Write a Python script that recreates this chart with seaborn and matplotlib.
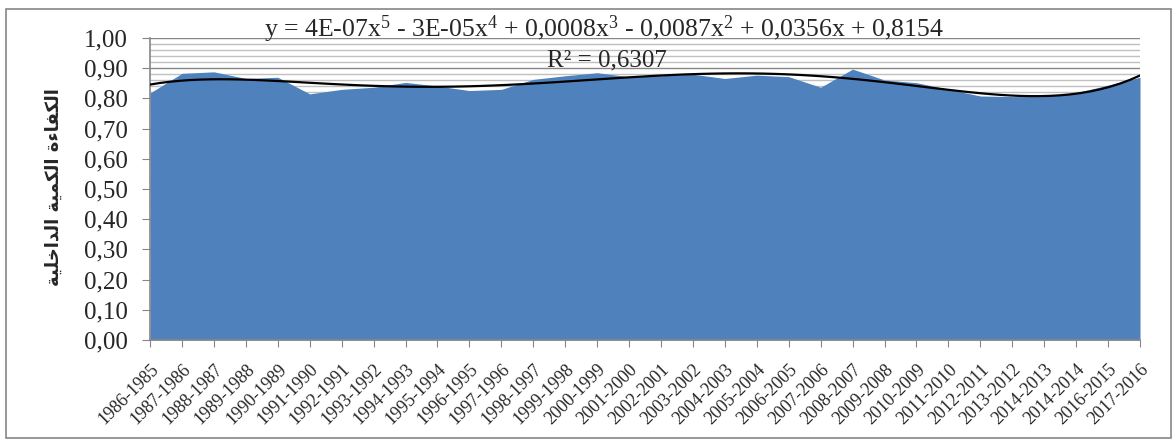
import numpy as np
import pandas as pd
import seaborn as sns
import matplotlib.pyplot as plt
from matplotlib.ticker import MultipleLocator
from matplotlib.patches import Rectangle

seasons = ["1986-1985", "1987-1986", "1988-1987", "1989-1988", "1990-1989", "1991-1990",
           "1992-1991", "1993-1992", "1994-1993", "1995-1994", "1996-1995", "1997-1996",
           "1998-1997", "1999-1998", "2000-1999", "2001-2000", "2002-2001", "2003-2002",
           "2004-2003", "2005-2004", "2006-2005", "2007-2006", "2008-2007", "2009-2008",
           "2010-2009", "2011-2010", "2012-2011", "2013-2012", "2014-2013", "2014-2014",
           "2016-2015", "2017-2016"]
efficiency = [0.818, 0.883, 0.888, 0.866, 0.870, 0.815, 0.830, 0.837, 0.853, 0.841, 0.826,
              0.830, 0.863, 0.875, 0.885, 0.872, 0.875, 0.880, 0.866, 0.877, 0.872, 0.837,
              0.897, 0.861, 0.852, 0.830, 0.808, 0.806, 0.806, 0.819, 0.844, 0.870]
yticks = [0.0, 0.1, 0.2, 0.3, 0.4, 0.5, 0.6, 0.7, 0.8, 0.9, 1.0]
equation = (r"y = 4E-07x$^{5}$ - 3E-05x$^{4}$ + 0,0008x$^{3}$ - 0,0087x$^{2}$"
            r" + 0,0356x + 0,8154")
r2_text = "R² = 0,6307"

# arabic label, pre-shaped (presentation forms) and in visual order
ylabel = "\ufe94\ufef4\ufee0\ufea7\ufe8d\ufeaa\ufedf\ufe8d \ufe94\ufef4\ufee4\ufedc\ufedf\ufe8d \ufe93\ufe80\ufe8e\ufed4\ufedc\ufedf\ufe8d"

df = pd.DataFrame({"pos": np.arange(len(seasons)), "value": efficiency})

sns.set_style("white")
plt.rcParams['font.family'] = ['Liberation Serif', 'DejaVu Sans']
plt.rcParams['mathtext.fontset'] = 'custom'
plt.rcParams['mathtext.rm'] = 'Liberation Serif'
plt.rcParams['mathtext.it'] = 'Liberation Serif'

fig = plt.figure(figsize=(11.76, 4.4), dpi=100)
ax = fig.add_axes([0.1276, 0.2273, 0.8418, 0.6863])

ax.fill_between(df["pos"], 0, df["value"], color="#4F81BD", linewidth=0, zorder=2)
sns.regplot(data=df, x="pos", y="value", order=5, scatter=False, ci=None, ax=ax,
            line_kws={"color": "black", "linewidth": 1.6, "zorder": 3})

ax.set_xlim(0, len(seasons) - 1)
ax.set_ylim(0, 1)
ax.set_yticks(yticks)
ax.set_yticklabels([f"{v:.2f}".replace(".", ",") for v in yticks])
ax.yaxis.set_minor_locator(MultipleLocator(0.02))
ax.grid(which="major", axis="y", color="#868686", linewidth=1.0, zorder=0)
ax.grid(which="minor", axis="y", color="#C0C0C0", linewidth=1.0, zorder=0)
ax.set_axisbelow(True)

ax.set_xticks(df["pos"])
ax.set_xticklabels(seasons, rotation=45, ha="right", rotation_mode="anchor", fontsize=13)
ax.tick_params(axis="y", which="major", labelsize=18, length=6, color="#868686",
               direction="out", left=True, pad=10)
ax.tick_params(axis="y", which="minor", length=0)
ax.tick_params(axis="x", length=5, color="#868686", direction="out", bottom=True, pad=10)

for side in ["top", "right"]:
    ax.spines[side].set_visible(False)
for side in ["left", "bottom"]:
    ax.spines[side].set_color("#868686")
    ax.spines[side].set_linewidth(1.2)

ax.set_xlabel("")
ax.set_ylabel(ylabel, fontsize=13, fontweight="bold", family="DejaVu Sans")
ax.yaxis.set_label_coords(-0.088, 0.507)

ax.text(0.458, 1.004, equation, transform=ax.transAxes, ha="center", va="baseline",
        fontsize=18.5, zorder=5)
ax.text(0.462, 0.925, r2_text, transform=ax.transAxes, ha="center", va="center",
        fontsize=18, zorder=5)

fig.patches.append(Rectangle((6 / 1176, 2 / 440), 1165 / 1176, 429 / 440, transform=fig.transFigure,
                             fill=False, edgecolor="#868686", linewidth=1.2))

fig.savefig("out.png", dpi=100)
